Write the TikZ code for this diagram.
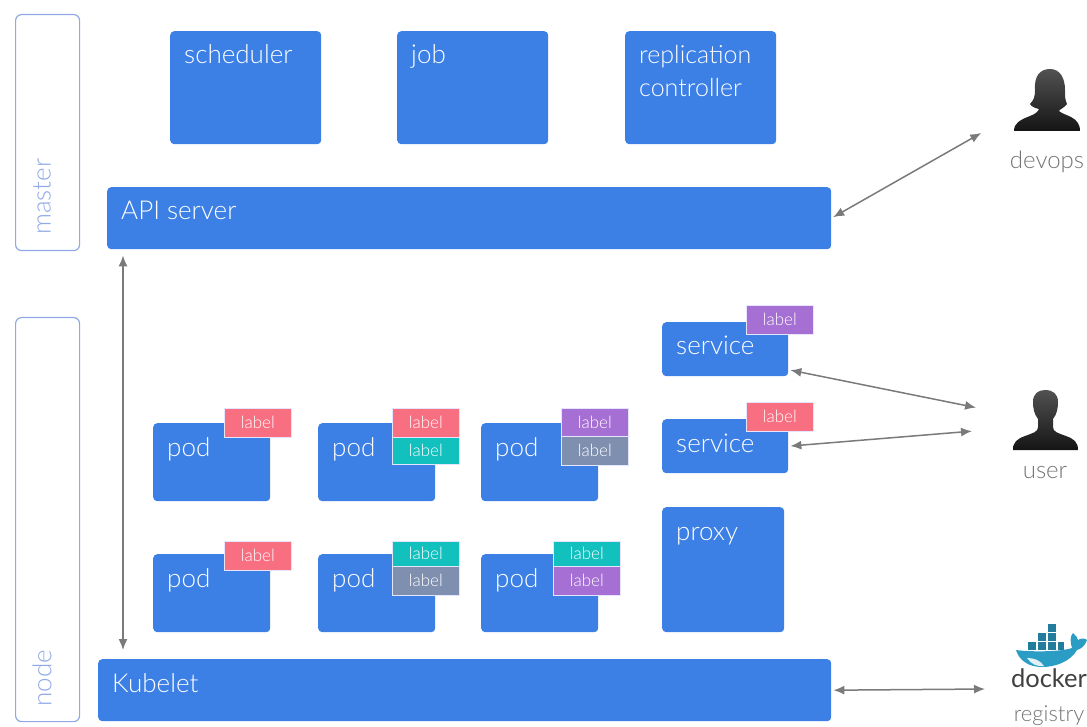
\documentclass[tikz,border=0pt]{standalone}
\usepackage{fontspec}
\usetikzlibrary{arrows.meta}
\setmainfont{Lato Light}
\newfontfamily\dockerfont{Lato}
\definecolor{boxblue}{HTML}{3C80E6}
\definecolor{rimblue}{HTML}{8FA9E6}
\definecolor{tagred}{HTML}{F96F82}
\definecolor{tagteal}{HTML}{12C0BE}
\definecolor{tagpurple}{HTML}{A56FD4}
\definecolor{taggray}{HTML}{7F8FB0}
\definecolor{linkgray}{HTML}{7A7A7A}
\definecolor{whaleblue}{HTML}{2B9CC4}
\tikzset{
    boxtext/.style={anchor=base west, inner sep=0pt, xshift=14pt, yshift=-33pt, text=white, align=left,
        font=\fontsize{26}{33}\selectfont},
    bluebox/.style={anchor=north west, fill=boxblue, rounded corners=4pt, inner sep=0pt},
    tagbox/.style={anchor=north west, draw=blue!10!white, line width=0.6pt, inner sep=0pt, text=white,
        font=\fontsize{17}{18}\selectfont},
    rimbox/.style={anchor=north west, draw=rimblue, line width=1.2pt, rounded corners=6pt, inner sep=0pt},
    rimtext/.style={rotate=90, anchor=west, inner sep=0pt, text=rimblue, font=\fontsize{26}{30}\selectfont},
    sidetext/.style={inner sep=0pt, text=black!55, font=\fontsize{#1}{26}\selectfont},
    sidetext/.default=24,
    link/.style={linkgray, line width=1.5pt, {Latex[length=11pt,width=9pt]}-{Latex[length=11pt,width=9pt]},
        shorten >=2pt, shorten <=2pt},
}
\begin{document}
\begin{tikzpicture}[x=1pt,y=-1pt]
    \useasboundingbox (0,0) rectangle (1087,727);

    % left frames
    \node[rimbox, minimum width=64pt, minimum height=236pt] (masterframe) at (15,14) {};
    \node[rimbox, minimum width=64pt, minimum height=404pt] (nodeframe) at (15,317) {};
    \node[rimtext] (mastertext) at (42,235) {master};
    \node[rimtext] (nodetext) at (42,707) {node};

    % master
    \foreach \name/\x/\txt in {scheduler/170/scheduler, job/397/job} {
        \node[bluebox, minimum width=151pt, minimum height=113pt, label={[boxtext]north west:\txt}] (\name) at (\x,31) {};
    }
    \node[bluebox, minimum width=151pt, minimum height=113pt,
        label={[boxtext, yshift=-33pt, font=\fontsize{25}{33}\selectfont]north west:replication\\controller}] (replication) at (625,31) {};
    \node[bluebox, minimum width=724pt, minimum height=62pt, label={[boxtext]north west:API server}] (api) at (107,187) {};

    % node
    \node[bluebox, minimum width=733pt, minimum height=62pt, label={[boxtext]north west:Kubelet}] (kubelet) at (98,659) {};
    \foreach \name/\y in {serviceA/322, serviceB/419} {
        \node[bluebox, minimum width=126pt, minimum height=54pt, label={[boxtext]north west:service}] (\name) at (662,\y) {};
    }
    \node[bluebox, minimum width=122pt, minimum height=125pt, label={[boxtext]north west:proxy}] (proxy) at (662,507) {};
    \foreach \name/\x/\y in {podA/153/423, podB/318/423, podC/481/423, podD/153/554, podE/318/554, podF/481/554} {
        \node[bluebox, minimum width=117pt, minimum height=78pt, label={[boxtext]north west:pod}] (\name) at (\x,\y) {};
    }

    % labels
    \foreach \name/\x/\y/\h/\c in {
        tagS/746/305/29/tagpurple, tagT/746/402/29/tagred,
        tagA/224/408/29/tagred, tagB/392/408/29/tagred, tagC/392/437/27/tagteal,
        tagD/561/408/28/tagpurple, tagE/561/436/29/taggray,
        tagF/224/541/29/tagred, tagG/392/541/25/tagteal, tagH/392/566/29/taggray,
        tagI/553/541/25/tagteal, tagJ/553/566/29/tagpurple} {
        \node[tagbox, fill=\c, minimum width=67pt, minimum height=\h pt] (\name) at (\x,\y) {label};
    }

    % people
    \shade[top color=black!68, bottom color=black!92] (1014,131) .. controls (1014,123) and (1020,120) .. (1030,116)
        .. controls (1035,114) and (1038,112) .. (1039,109) .. controls (1034,108) and (1031,106) .. (1030,104)
        .. controls (1034,100) and (1035,96) .. (1035,90) .. controls (1034,76) and (1040,69) .. (1050,69)
        .. controls (1060,69) and (1065,78) .. (1065,90) .. controls (1065,96) and (1065,100) .. (1067,104)
        .. controls (1064,108) and (1060,109) .. (1059,111) .. controls (1064,116) and (1080,116) .. (1080,131) -- cycle;
    \shade[top color=black!68, bottom color=black!92] (1013,450) .. controls (1013,442) and (1017,439) .. (1025,436)
        .. controls (1033,433) and (1038,432) .. (1038,427) -- (1038,419)
        .. controls (1034,414) and (1033,408) .. (1033,402) .. controls (1033,394) and (1038,390) .. (1045,390)
        .. controls (1053,390) and (1058,394) .. (1058,402) .. controls (1058,408) and (1057,414) .. (1053,419)
        -- (1053,427) .. controls (1053,432) and (1058,433) .. (1066,436)
        .. controls (1074,439) and (1078,442) .. (1078,450) -- cycle;
    \node[sidetext] (devops) at (1047,162) {devops};
    \node[sidetext] (user) at (1045,473) {user};

    % docker
    \foreach \x/\y/\w/\h in {1048/624/8/8, 1038/633/8/8, 1048/633/8/8, 1028/642/8/8, 1038/642/8/8, 1048/642/8/8, 1058/642/6/8} {
        \fill[whaleblue!80!black] (\x,\y) rectangle ++(\w,\h);
    }
    \fill[whaleblue] (1016,650) .. controls (1030,652) and (1060,652) .. (1072,648)
        .. controls (1070,642) and (1070,636) .. (1073,633) .. controls (1076,636) and (1078,638) .. (1078,640)
        .. controls (1081,638) and (1085,638) .. (1087,640) .. controls (1085,646) and (1081,649) .. (1077,650)
        .. controls (1070,662) and (1055,667) .. (1042,667) .. controls (1028,667) and (1019,660) .. (1016,650) -- cycle;
    \fill[white!85!whaleblue] (1027,658) .. controls (1034,658) and (1040,660) .. (1044,666)
        .. controls (1037,667) and (1031,664) .. (1027,658) -- cycle;
    \node[inner sep=0pt, text=black!75, font=\dockerfont\fontsize{25.5}{30}\selectfont] (docker) at (1049,678) {docker};
    \node[sidetext=22] (registry) at (1049,716) {registry};

    % links
    \coordinate (devopsend) at (983,132);
    \coordinate (userendA) at (978,408);
    \coordinate (userendB) at (974,431);
    \coordinate (registryend) at (987,689);
    \coordinate (uplink) at (123,0);
    \draw[link] (api.east) -- (devopsend);
    \draw[link] (serviceA.-18) -- (userendA);
    \draw[link] (serviceB.east) -- (userendB);
    \draw[link] (kubelet.east) -- (registryend);
    \draw[link, shorten >=9pt, shorten <=6pt] (api.south -| uplink) -- (kubelet.north -| uplink);
\end{tikzpicture}
\end{document}
